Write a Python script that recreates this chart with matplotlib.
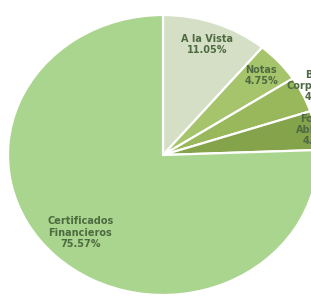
import numpy as np
import matplotlib
matplotlib.use("Agg")
import matplotlib.pyplot as plt

categories = ["A la Vista", "Notas", "Bonos\nCorporativos", "Fondos\nAbiertos", "Certificados\nFinancieros"]
values = [11.05, 4.75, 4.14, 4.49, 75.57]
colors = ["#d5dfc6", "#a6c46b", "#98b85b", "#84a34b", "#a9d58f"]
label_r = [0.84, 0.85, 1.135, 1.025, 0.77]

fig = plt.figure(figsize=(3.11, 3.00), dpi=100)
ax = fig.add_axes([0, 0, 1, 1])
wedges, _ = ax.pie(values, colors=colors, startangle=90, counterclock=False,
                   wedgeprops=dict(edgecolor="white", linewidth=1.6))
ax.set_aspect("auto")
ax.set_xlim(-163 / 155, (311 - 163) / 155)
ax.set_ylim(-(300 - 155) / 140, 155 / 140)
ax.axis("off")

for w, cat, v, r in zip(wedges, categories, values, label_r):
    th = np.deg2rad((w.theta1 + w.theta2) / 2)
    ax.text(r * np.cos(th), r * np.sin(th), f"{cat}\n{v:.2f}%",
            ha="center", va="center", fontsize=7, fontweight="bold",
            color="#4e6a40", linespacing=1.15, family="DejaVu Sans")

fig.savefig("out.png", dpi=100)
